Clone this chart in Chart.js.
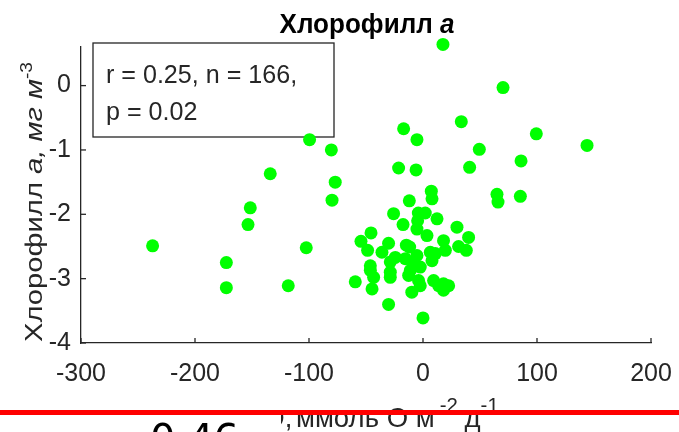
<!DOCTYPE html>
<html>
<head>
<meta charset="utf-8">
<script src="https://cdn.jsdelivr.net/npm/chart.js@4.4.1/dist/chart.umd.min.js"></script>
<style>
  html, body { margin: 0; padding: 0; background: #fff; }
  #wrap { width: 679px; height: 432px; }
</style>
</head>
<body>
<div id="wrap"><canvas id="chart" width="679" height="432"></canvas></div>
<script>
// values (x: flux, y: chlorophyll a)
const xValues = [
  -99.5, -80.4, -134, -77, -79.8, -151.5, -153.5, -237.2, -102.4, -172.5, -172.5, -118.2,
  -17, -5.3, -21.4, -6.1, 33.6, 49.4, 40.9, 70.2, 17.5, 99.4, 143.9, 86, 64.9, 65.8, 85.4,
  7.3, 7.9, -12, -25.8, -4.1, 2, 12.3,
  -17.5, -4.7, -5.3, 3.5, 29.8, 40, 38, 31.2, 18, 19.6, 10.8, 7.9, -45.6, -54.4, -48.6,
  -30.2, -36, -14.6, -11.7, -5.3, -24.3, -28.7, -15.5, -8.3, -2.4, -11.1, -12.6, -28.7,
  -28.7, -46.2, -46.2, -43.3, -59.4, -44.7, -3.9, -2.4, -9.8, 9.3, 13.7, 18, 22.5, 18,
  6.4, -30.2, 0
];
const yValues = [
  -0.84, -1.0, -1.37, -1.5, -1.78, -1.9, -2.16, -2.49, -2.52, -2.75, -3.14, -3.11,
  -0.67, -0.84, -1.28, -1.31, -0.56, -0.99, -1.27, -0.03, 0.64, -0.75, -0.93, -1.17, -1.69, -1.81, -1.72,
  -1.64, -1.76, -1.79, -1.99, -1.98, -1.98, -2.07,
  -2.16, -2.10, -2.23, -2.33, -2.20, -2.36, -2.56, -2.50, -2.41, -2.56, -2.61, -2.72, -2.29, -2.42, -2.56,
  -2.45, -2.59, -2.48, -2.51, -2.64, -2.67, -2.74, -2.69, -2.77, -2.82, -2.87, -2.95, -2.90,
  -2.98, -2.80, -2.87, -2.98, -3.05, -3.16, -3.03, -3.11, -3.21, -3.03, -3.11, -3.08, -3.11, -3.18,
  -2.59, -3.40, -3.61
];
const xTicks = [-300, -200, -100, 0, 100, 200];
const yTicks = [-4, -3, -2, -1, 0];
const statsLines = ['r = 0.25, n = 166,', 'p = 0.02'];

const AX = '#262626';
const FAM = "'Liberation Sans', Arial, sans-serif";

function drawRuns(ctx, runs, x, y) {
  runs.forEach((r) => {
    ctx.font = r.font;
    ctx.fillText(r.t, x, y - (r.dy || 0));
    x += ctx.measureText(r.t).width;
  });
  return x;
}
function runsWidth(ctx, runs) {
  return runs.reduce((w, r) => { ctx.font = r.font; return w + ctx.measureText(r.t).width; }, 0);
}

const decor = {
  id: 'decor',
  beforeDatasetsDraw(chart) {
    const { ctx } = chart;
    ctx.save();
    // stats box sits under the points
    ctx.strokeStyle = AX;
    ctx.lineWidth = 1.3;
    ctx.fillStyle = '#fff';
    ctx.fillRect(93, 43, 241, 94);
    ctx.strokeRect(93, 43, 241, 94);
    ctx.fillStyle = AX;
    ctx.textBaseline = 'alphabetic';
    ctx.save();
    ctx.translate(106, 0);
    ctx.scale(0.965, 1);
    ctx.font = `26px ${FAM}`;
    ctx.fillText(statsLines[0], 0, 83);
    ctx.fillText(statsLines[1], 0, 120);
    ctx.restore();
    ctx.restore();
  },
  afterDatasetsDraw(chart) {
    const { ctx, scales: { x, y } } = chart;
    ctx.save();
    // inward tick marks
    ctx.strokeStyle = AX;
    ctx.lineWidth = 1.3;
    const y0 = y.getPixelForValue(-4);
    const x0 = x.getPixelForValue(-300);
    xTicks.forEach((v) => {
      const px = x.getPixelForValue(v);
      ctx.beginPath(); ctx.moveTo(px, y0); ctx.lineTo(px, y0 - 5); ctx.stroke();
    });
    yTicks.forEach((v) => {
      const py = y.getPixelForValue(v);
      ctx.beginPath(); ctx.moveTo(x0, py); ctx.lineTo(x0 + 5, py); ctx.stroke();
    });
    ctx.textBaseline = 'alphabetic';

    // title
    ctx.fillStyle = '#000';
    const title = [
      { t: 'Хлорофилл ', font: `bold 28px ${FAM}` },
      { t: 'a', font: `italic bold 28px ${FAM}` },
    ];
    const tw = runsWidth(ctx, title);
    ctx.save();
    ctx.translate(367 - 175 / 2, 33);
    ctx.scale(175 / tw, 1);
    drawRuns(ctx, title, 0, 0);
    ctx.restore();

    // y label, stretched to the span it covers in the reference
    ctx.fillStyle = AX;
    const ylab = [
      { t: 'Хлорофилл ', font: `29px ${FAM}` },
      { t: 'a, мг м', font: `italic 29px ${FAM}` },
      { t: '-3', font: `19px ${FAM}`, dy: 12 },
    ];
    ctx.save();
    ctx.translate(42, 342);
    ctx.rotate(-Math.PI / 2);
    ctx.scale(280 / runsWidth(ctx, ylab), 0.85);
    drawRuns(ctx, ylab, 0, 0);
    ctx.restore();

    // x label (left part hidden in the reference)
    const head = { t: 'O, ', font: `27px ${FAM}` };
    ctx.save();
    ctx.translate(296, 427);
    ctx.scale(1.02, 1);
    let end = drawRuns(ctx, [{ t: 'ммоль O м', font: `27px ${FAM}` }], 0, 0);
    end = drawRuns(ctx, [{ t: '-2', font: `20px ${FAM}`, dy: 15 }], end + 5, 0);
    drawRuns(ctx, [
      { t: ' д', font: `27px ${FAM}` },
      { t: '-1', font: `20px ${FAM}`, dy: 15 },
    ], end - 1, 0);
    drawRuns(ctx, [head], -runsWidth(ctx, [head]) + 4, 0);
    ctx.restore();
    ctx.fillStyle = '#fff';
    ctx.fillRect(0, 392, 281, 40);

    // red rule and the large number below it
    ctx.fillStyle = '#ff0000';
    ctx.fillRect(0, 410, 679, 5);
    ctx.fillStyle = '#000';
    ctx.font = "40px 'DejaVu Sans', sans-serif";
    ctx.fillText('0.46', 150, 453);
    ctx.restore();
  },
};

new Chart(document.getElementById('chart'), {
  type: 'scatter',
  data: {
    datasets: [{
      data: xValues.map((v, i) => ({ x: v, y: yValues[i] })),
      backgroundColor: '#00ff00',
      borderWidth: 0,
      pointRadius: 6.5,
      pointHoverRadius: 6.5,
      clip: false,
    }],
  },
  options: {
    responsive: false,
    animation: false,
    layout: { padding: { top: 47, right: 28, left: 0, bottom: 0 } },
    plugins: { legend: { display: false }, tooltip: { enabled: false } },
    scales: {
      x: {
        type: 'linear',
        min: -300,
        max: 200,
        afterBuildTicks: (s) => { s.ticks = xTicks.map((v) => ({ value: v })); },
        afterFit: (s) => { s.height = 89; s.paddingLeft = 0; s.paddingRight = 0; },
        grid: { display: false, drawTicks: false },
        border: { display: true, color: AX, width: 1.3 },
        ticks: { color: AX, padding: 16, maxRotation: 0, font: { family: FAM, size: 25 } },
      },
      y: {
        type: 'linear',
        min: -4,
        max: 0.6,
        afterBuildTicks: (s) => { s.ticks = yTicks.map((v) => ({ value: v })); },
        afterFit: (s) => { s.width = 81; s.paddingTop = 0; s.paddingBottom = 0; },
        grid: { display: false, drawTicks: false },
        border: { display: true, color: AX, width: 1.3 },
        ticks: { color: AX, padding: 10, font: { family: FAM, size: 25 } },
      },
    },
  },
  plugins: [decor],
});
</script>
</body>
</html>
